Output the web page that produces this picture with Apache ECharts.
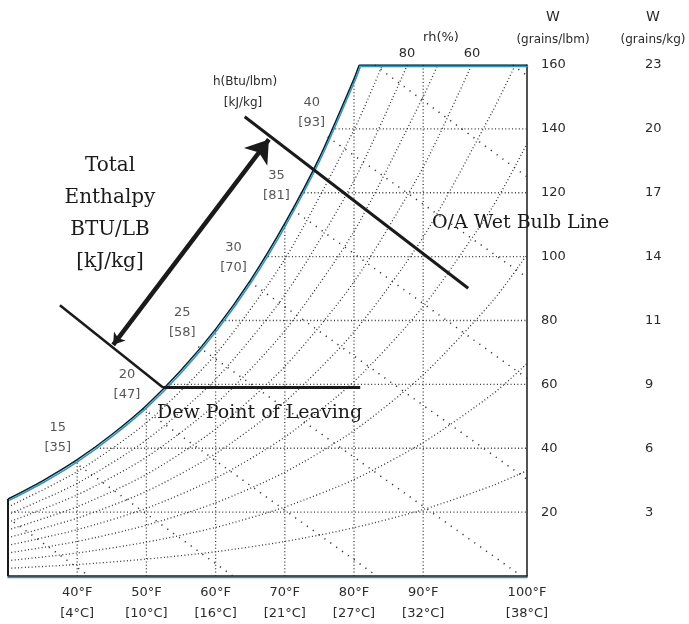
<!DOCTYPE html>
<html>
<head>
<meta charset="utf-8">
<title>Psychrometric chart</title>
<script src="https://cdn.jsdelivr.net/npm/echarts@6/dist/echarts.min.js"></script>
<style>
  html, body { margin: 0; padding: 0; background: #fff; }
  #chart { width: 689px; height: 624px; }
</style>
</head>
<body>
<div id="chart"></div>
<script>
// dry bulb (°F) / humidity ratio (grains per lb dry air)
var xMin = 30, xMax = 105, wMax = 160;

// saturation curve
var satT = [30, 35, 40, 45, 50, 55, 60, 65, 70, 75, 80, 80.75];
var satW = [24.1, 29.8, 36.4, 44.3, 53.4, 64.4, 77.3, 92.5, 110.4, 131.0, 155.7, 160];

// relative humidity lines, W read at these dry bulbs
var rhLevels = [10, 20, 30, 40, 50, 60, 70, 80, 90];
var rhT = [30, 40, 50, 60, 70, 80, 90, 100, 105];
var rhW = [
    [2.4, 3.6, 5.3, 7.6, 10.8, 15.1, 20.8, 28.3, 33.0],
    [4.8, 7.2, 10.6, 15.2, 21.6, 30.2, 41.8, 56.9, 66.5],
    [7.2, 10.8, 15.9, 22.9, 32.5, 45.5, 63.0, 86.0, 100.6],
    [9.6, 14.5, 21.2, 30.6, 43.5, 60.9, 84.4, 115.5, 135.4],
    [12.0, 18.1, 26.5, 38.3, 54.5, 76.4, 106.1, 145.4],
    [14.4, 21.7, 31.8, 46.0, 65.6, 92.1, 128.0],
    [16.8, 25.4, 37.2, 53.8, 76.8, 107.9, 150.1],
    [19.2, 29.0, 42.6, 61.6, 88.0, 123.8],
    [21.6, 32.7, 48.0, 69.4, 99.2, 139.7]
];
// where a line leaves through the top edge (W = 160)
var rhTopT = [null, null, null, null, 103.3, 97.0, 92.1, 87.7, 84.1];

// dry bulb grid lines, running up to the saturation curve
var dbT = [40, 50, 60, 70, 80, 90];
var dbTopW = [36.4, 53.4, 77.3, 110.4, 155.7, 160];

// humidity ratio grid lines, starting at the saturation curve
var wTicks = [20, 40, 60, 80, 100, 120, 140];
var wDewT = [30, 42.3, 53.0, 60.9, 67.1, 72.3, 76.8];

// enthalpy lines (Btu/lb): start and end points
var hValues = [10, 15, 20, 25, 30, 35, 40, 45, 50];
var hKj = [23, 35, 47, 58, 70, 81, 93, 105, 116];
var hStart = [[30, 18.2], [39.5, 35.8], [49.5, 52.4], [57.5, 71.8], [64.9, 92.2], [71.1, 114.8], [76.2, 137.5], [83.0, 160], [102.9, 160]];
var hEnd = [[41.7, 0], [62.5, 0], [83.3, 0], [104.2, 0], [105, 30.3], [105, 61.9], [105, 93.5], [105, 125], [105, 156.7]];
var hLabelled = [15, 20, 25, 30, 35, 40];

// process lines
var oaWetBulb = [[64.2, 143.8], [96.5, 90.1]];
var leavingLine = [[37.5, 84.8], [52.4, 59.0]];
var dewLine = [[52.4, 59.0], [80.9, 59.0]];
var enthalpyArrow = [[45.2, 72.4], [67.7, 136.7]];

// axis labels
var xTicks = [40, 50, 60, 70, 80, 90, xMax];
var xTickF = ['40°F', '50°F', '60°F', '70°F', '80°F', '90°F', '100°F'];
var xTickC = ['[4°C]', '[10°C]', '[16°C]', '[21°C]', '[27°C]', '[32°C]', '[38°C]'];
var yTicks = [20, 40, 60, 80, 100, 120, 140, 160];
var kgLabels = ['3', '6', '9', '11', '14', '17', '20', '23'];

var smallFont = 'DejaVu Sans';
var bigFont = 'DejaVu Serif';
var ink = '#1a1a1a';
var txt = '#2a2a2a';
var blue = '#1d9bd7';

function pairs(xs, ys) {
    var out = [];
    for (var i = 0; i < ys.length; i++) out.push([xs[i], ys[i]]);
    return out;
}

var dense = { color: '#333', width: 1.3, type: [1, 2.4] };
var sparse = { color: '#333', width: 1.5, type: [1.2, 6] };

function plainLine(data, style, z) {
    return {
        type: 'line', data: data, symbol: 'none', silent: true,
        lineStyle: style, z: z || 2, animation: false
    };
}

var series = [];

// rh lines
rhW.forEach(function(ws, i) {
    var d = pairs(rhT, ws);
    if (rhTopT[i] !== null) d.push([rhTopT[i], wMax]);
    var s = plainLine(d, dense);
    s.smooth = 0.25;
    series.push(s);
});

// dry bulb lines
dbT.forEach(function(t, i) {
    series.push(plainLine([[t, 0], [t, dbTopW[i]]], dense));
});

// humidity ratio lines
wTicks.forEach(function(w, i) {
    series.push(plainLine([[wDewT[i], w], [xMax, w]], dense));
});

// enthalpy lines
hValues.forEach(function(h, i) {
    series.push(plainLine([hStart[i], hEnd[i]], sparse));
});

// saturation curve and top edge
var edgeStyle = {
    color: ink, width: 1.5, shadowColor: blue, shadowBlur: 0,
    shadowOffsetX: 1.2, shadowOffsetY: 1.4
};
var sat = plainLine(pairs(satT, satW), edgeStyle, 5);
sat.smooth = 0.25;
series.push(sat);
series.push(plainLine([[satT[satT.length - 1], wMax], [xMax, wMax]], edgeStyle, 5));

// left edge below the saturation curve
series.push(plainLine([[xMin, 0], [xMin, satW[0]]], { color: ink, width: 2 }, 5));

// process lines
series.push(plainLine(oaWetBulb, { color: ink, width: 3 }, 6));
series.push(plainLine(leavingLine, { color: ink, width: 2.5 }, 6));
series.push(plainLine(dewLine, { color: ink, width: 3 }, 6));

series.push({
    type: 'lines',
    coordinateSystem: 'cartesian2d',
    symbol: ['arrow', 'arrow'],
    symbolSize: [11, 22],
    silent: true,
    lineStyle: { color: ink, width: 4.5, opacity: 1, curveness: 0 },
    data: [{ coords: enthalpyArrow }],
    z: 6
});

// enthalpy value labels next to the saturation curve
series.push({
    type: 'scatter',
    symbolSize: 0,
    silent: true,
    data: hLabelled.map(function(h) {
        var i = hValues.indexOf(h);
        return { value: hStart[i], name: h + '\n[' + hKj[i] + ']' };
    }),
    label: {
        show: true, position: 'inside', offset: [-16, -24],
        formatter: '{b}', color: txt, fontFamily: smallFont,
        fontSize: 13, lineHeight: 20
    },
    z: 7
});

function note(x, y, text, size) {
    return {
        type: 'text', x: x, y: y,
        style: { text: text, font: size + 'px ' + smallFont, fill: txt, align: 'center', verticalAlign: 'middle' }
    };
}

var chart = echarts.init(document.getElementById('chart'), null, { renderer: 'canvas' });

var option = {
    animation: false,
    backgroundColor: '#fff',
    grid: { left: 8, right: 162, top: 65, bottom: 44 },
    xAxis: {
        type: 'value', min: xMin, max: xMax,
        axisLine: {
            show: true,
            lineStyle: { color: ink, width: 1.5, shadowColor: blue, shadowOffsetY: 1.5 }
        },
        axisTick: { show: false },
        splitLine: { show: false },
        axisLabel: {
            customValues: xTicks,
            margin: 6,
            color: txt, fontFamily: smallFont, fontSize: 13, lineHeight: 21,
            formatter: function(v) {
                var i = xTicks.indexOf(v);
                return i < 0 ? '' : xTickF[i] + '\n' + xTickC[i];
            }
        }
    },
    yAxis: [{
        type: 'value', position: 'right', min: 0, max: wMax, interval: 20,
        axisLine: { show: true, lineStyle: { color: ink, width: 1.5 } },
        axisTick: { show: false },
        splitLine: { show: false },
        axisLabel: {
            customValues: yTicks, margin: 14,
            color: txt, fontFamily: smallFont, fontSize: 13
        }
    }, {
        type: 'value', position: 'right', min: 0, max: wMax, interval: 20,
        axisLine: { show: false },
        axisTick: { show: false },
        splitLine: { show: false },
        axisLabel: {
            customValues: yTicks, margin: 118,
            color: txt, fontFamily: smallFont, fontSize: 13,
            formatter: function(v) {
                return kgLabels[yTicks.indexOf(v)];
            }
        }
    }],
    graphic: [
        note(553, 17, 'W', 14),
        note(553, 40, '(grains/lbm)', 12),
        note(653, 17, 'W', 14),
        note(653, 40, '(grains/kg)', 12),
        note(441, 38, 'rh(%)', 13),
        note(407, 54, '80', 13),
        note(472, 54, '60', 13),
        note(245, 82, 'h(Btu/lbm)', 12),
        note(243, 103, '[kJ/kg]', 12),
        { type: 'text', x: 110, y: 214, style: { text: 'Total\nEnthalpy\nBTU/LB\n[kJ/kg]', font: '20px ' + bigFont, lineHeight: 32, fill: ink, align: 'center', verticalAlign: 'middle' } },
        { type: 'text', x: 432, y: 223, style: { text: 'O/A Wet Bulb Line', font: '19px ' + bigFont, fill: ink, align: 'left', verticalAlign: 'middle' } },
        { type: 'text', x: 157, y: 413, style: { text: 'Dew Point of Leaving', font: '19px ' + bigFont, fill: ink, align: 'left', verticalAlign: 'middle' } }
    ],
    series: series
};

chart.setOption(option);
</script>
</body>
</html>
